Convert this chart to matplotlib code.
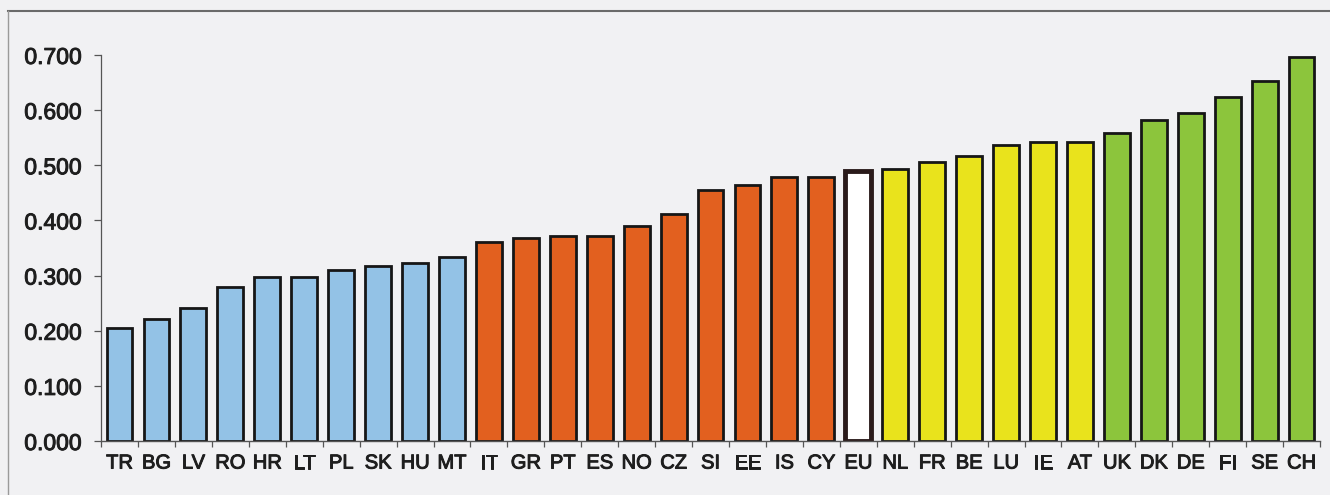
import matplotlib
matplotlib.use("Agg")
import matplotlib.pyplot as plt
import matplotlib.patheffects as pe
from matplotlib.lines import Line2D
from matplotlib.ticker import FormatStrFormatter

# ── Data ──────────────────────────────────────────────────────────────
countries = ["TR", "BG", "LV", "RO", "HR", "LT", "PL", "SK", "HU", "MT",
             "IT", "GR", "PT", "ES", "NO", "CZ", "SI", "EE", "IS", "CY",
             "EU",
             "NL", "FR", "BE", "LU", "IE", "AT",
             "UK", "DK", "DE", "FI", "SE", "CH"]
values = [0.205, 0.221, 0.241, 0.280, 0.298, 0.298, 0.310, 0.318, 0.322, 0.334,
          0.361, 0.368, 0.372, 0.372, 0.389, 0.412, 0.456, 0.464, 0.478, 0.478,
          0.489,
          0.494, 0.506, 0.517, 0.536, 0.543, 0.543,
          0.559, 0.582, 0.594, 0.624, 0.652, 0.696]
groups = ["low"] * 10 + ["mid"] * 10 + ["eu"] + ["upper"] * 6 + ["top"] * 6

group_colors = {"low": "#93c2e6", "mid": "#e2601f", "eu": "#ffffff",
                "upper": "#e9e31c", "top": "#8cc53c"}
y_ticks = [0.0, 0.1, 0.2, 0.3, 0.4, 0.5, 0.6, 0.7]

bg = "#f1f1f3"
text_col = "#1e1e1e"
plt.rcParams["font.family"] = ["Liberation Sans", "DejaVu Sans"]

fig = plt.figure(figsize=(13.3, 4.95), dpi=100, facecolor=bg)
ax = fig.add_axes([0.076, 0.109, 0.9165, 0.78])
ax.set_facecolor(bg)

xs = list(range(len(countries)))
colors = [group_colors[g] for g in groups]
widths = [3.5 if g == "eu" else 2.0 for g in groups]
edges = ["#2a1a1a" if g == "eu" else "#161616" for g in groups]
ax.bar(xs, values, width=0.7, color=colors, edgecolor=edges, linewidth=widths, zorder=2)

ax.set_xlim(-0.5, len(countries) - 0.5)
ax.set_ylim(0, 0.7)
ax.set_yticks(y_ticks)
ax.yaxis.set_major_formatter(FormatStrFormatter("%.3f"))
ax.tick_params(axis="y", length=5, width=0.9, color="#555555", labelsize=16.5,
               labelcolor=text_col, pad=9)

ax.set_xticks(xs)
ax.set_xticklabels(countries)
ax.set_xticks([x - 0.5 for x in range(len(countries) + 1)], minor=True)
ax.tick_params(axis="x", which="major", length=0, labelsize=14.5,
               labelcolor=text_col, pad=9)
ax.tick_params(axis="x", which="minor", length=4, width=0.9, color="#555555")

# the scanned labels look a touch heavier than plain regular
thicken = [pe.withStroke(linewidth=0.7, foreground=text_col)]
for lab in ax.get_xticklabels() + ax.get_yticklabels():
    lab.set_path_effects(thicken)

for side in ("top", "right"):
    ax.spines[side].set_visible(False)
ax.spines["left"].set_color("#555555")
ax.spines["bottom"].set_color("#555555")
ax.spines["left"].set_linewidth(0.9)
ax.spines["bottom"].set_linewidth(1.0)

# scan frame lines along the top and left edge
fig.add_artist(Line2D([8 / 1330, 1.0], [1 - 11 / 495] * 2, color="#6a6a6a",
                      linewidth=1.5, transform=fig.transFigure))
fig.add_artist(Line2D([8 / 1330] * 2, [0.0, 1 - 11 / 495], color="#9a9a9a",
                      linewidth=1.0, transform=fig.transFigure))

fig.savefig("out.png", dpi=100, facecolor=bg)
